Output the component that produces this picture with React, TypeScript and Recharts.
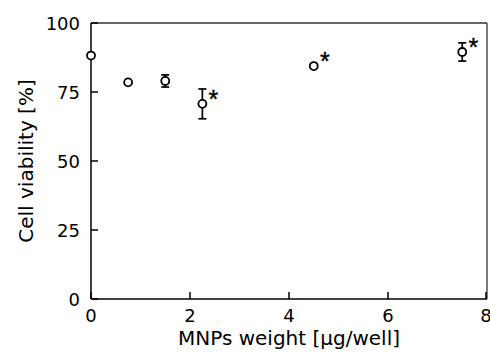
import { ErrorBar, Label, ReferenceLine, Scatter, ScatterChart, XAxis, YAxis } from "recharts";

// MNP dose per well vs. cell viability (mean ± SD), * = significant
const doses = [0, 0.75, 1.5, 2.25, 4.5, 7.5];
const viability = [88.2, 78.5, 79.0, 70.7, 84.4, 89.5];
const errors = [0, 0, 2.2, 5.4, 0, 3.3];
const significant = [false, false, false, true, true, true];

const xTicks = [0, 2, 4, 6, 8];
const yTicks = [0, 25, 50, 75, 100];

const data = doses.map((x, i) => ({
  x,
  y: viability[i],
  err: errors[i],
  sig: significant[i],
}));

const font = "'DejaVu Sans', sans-serif";
const ink = "#000";

function XTick(props: any) {
  const { x, y, payload } = props;
  return (
    <g>
      <line x1={x} y1={y} x2={x} y2={y - 7} stroke={ink} strokeWidth={1.5} />
      <text x={x} y={y + 23} textAnchor="middle" fontSize={18} fontFamily={font} fill={ink}>
        {payload.value}
      </text>
    </g>
  );
}

function YTick(props: any) {
  const { x, y, payload } = props;
  return (
    <g>
      <line x1={x} y1={y} x2={x + 7} y2={y} stroke={ink} strokeWidth={1.5} />
      <text x={x - 11} y={y} textAnchor="end" dominantBaseline="central" fontSize={18} fontFamily={font} fill={ink}>
        {payload.value}
      </text>
    </g>
  );
}

function Marker(props: any) {
  const { cx, cy, payload } = props;
  return (
    <g>
      <circle cx={cx} cy={cy} r={4} fill="#fff" stroke={ink} strokeWidth={1.8} />
      {payload.sig && (
        <text
          x={cx + 11}
          y={cy + 4}
          textAnchor="middle"
          fontSize={25}
          fontFamily="'Liberation Sans', Arial, sans-serif"
          fill={ink}
          stroke={ink}
          strokeWidth={0.4}
        >
          *
        </text>
      )}
    </g>
  );
}

export default function App() {
  return (
    <div style={styles.wrap}>
      <ScatterChart width={490} height={360} margin={{ top: 23, right: 3, bottom: 0, left: 0 }}>
        <XAxis
          type="number"
          dataKey="x"
          domain={[0, 8]}
          ticks={xTicks}
          tick={<XTick />}
          tickLine={false}
          tickSize={0}
          tickMargin={0}
          height={61}
          axisLine={{ stroke: ink, strokeWidth: 1.5 }}
        >
          <Label
            content={(p: any) => {
              const vb = p.viewBox;
              return (
                <text x={vb.x + vb.width / 2} y={vb.y + 46} textAnchor="middle" fontSize={20} fontFamily={font} fill={ink}>
                  MNPs weight [μg/well]
                </text>
              );
            }}
          />
        </XAxis>
        <YAxis
          type="number"
          dataKey="y"
          domain={[0, 100]}
          ticks={yTicks}
          tick={<YTick />}
          tickLine={false}
          tickSize={0}
          tickMargin={0}
          width={91}
          axisLine={{ stroke: ink, strokeWidth: 1.5 }}
        >
          <Label
            content={(p: any) => {
              const vb = p.viewBox;
              const lx = vb.x + 33;
              const ly = vb.y + vb.height / 2;
              return (
                <text x={lx} y={ly} transform={`rotate(-90, ${lx}, ${ly})`} textAnchor="middle" fontSize={20} fontFamily={font} fill={ink}>
                  Cell viability [%]
                </text>
              );
            }}
          />
        </YAxis>
        <ReferenceLine y={100} stroke="#333" strokeWidth={1.3} />
        <ReferenceLine x={8} stroke="#333" strokeWidth={1.3} />
        <Scatter data={data} shape={<Marker />} isAnimationActive={false}>
          <ErrorBar dataKey="err" direction="y" width={4} stroke={ink} strokeWidth={1.7} />
        </Scatter>
      </ScatterChart>
    </div>
  );
}

const styles: Record<string, React.CSSProperties> = {
  wrap: {
    position: "absolute",
    left: 0,
    top: 0,
    width: 490,
    height: 360,
    background: "#fff",
  },
};
